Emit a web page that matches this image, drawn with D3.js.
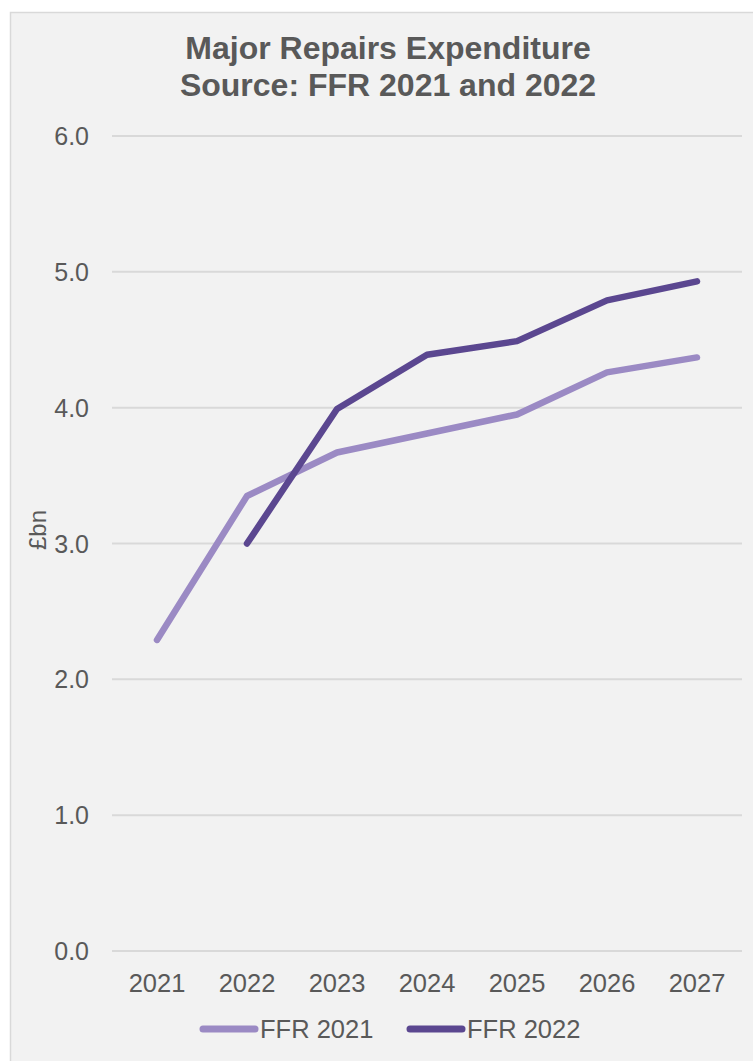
<!DOCTYPE html>
<html>
<head>
<meta charset="utf-8">
<script src="https://cdn.jsdelivr.net/npm/d3@7"></script>
<style>
  html, body { margin: 0; padding: 0; background: #fff; }
  svg { display: block; font-family: "Liberation Sans", Arial, sans-serif; }
</style>
</head>
<body>
<div id="chart"></div>
<script>
const years = ["2021", "2022", "2023", "2024", "2025", "2026", "2027"]
const ffr2021 = [2.29, 3.35, 3.67, 3.81, 3.95, 4.26, 4.37]
const ffr2022 = [null, 3.0, 3.99, 4.39, 4.49, 4.79, 4.93]
const yTicks = [0, 1, 2, 3, 4, 5, 6]

const width = 753
const height = 1061
const textColor = "#595959"

const svg = d3.select("#chart")
  .append("svg")
  .attr("width", width)
  .attr("height", height)

// chart panel
svg.append("rect")
  .attr("x", 10.5)
  .attr("y", 12.5)
  .attr("width", width)
  .attr("height", height)
  .attr("fill", "#f2f2f2")
  .attr("stroke", "#d9d9d9")
  .attr("stroke-width", 1.5)

const title = svg.append("text")
  .attr("text-anchor", "middle")
  .attr("font-size", 32)
  .attr("font-weight", "bold")
  .attr("fill", textColor)
title.append("tspan").attr("x", 388).attr("y", 59).text("Major Repairs Expenditure")
title.append("tspan").attr("x", 388).attr("y", 96).text("Source: FFR 2021 and 2022")

const x = d3.scalePoint()
  .domain(years)
  .range([112, 742])
  .padding(0.5)

const y = d3.scaleLinear()
  .domain([0, 6])
  .range([951, 136])

// gridlines
svg.append("g")
  .selectAll("line")
  .data(yTicks)
  .enter().append("line")
  .attr("x1", 112)
  .attr("x2", 742)
  .attr("y1", d => y(d))
  .attr("y2", d => y(d))
  .attr("stroke", "#d9d9d9")
  .attr("stroke-width", 2)

// y tick labels
svg.append("g")
  .selectAll("text")
  .data(yTicks)
  .enter().append("text")
  .attr("x", 89)
  .attr("y", d => y(d) + 9)
  .attr("text-anchor", "end")
  .attr("font-size", 25)
  .attr("fill", textColor)
  .text(d => d.toFixed(1))

// x tick labels
svg.append("g")
  .selectAll("text")
  .data(years)
  .enter().append("text")
  .attr("x", d => x(d))
  .attr("y", 992)
  .attr("text-anchor", "middle")
  .attr("font-size", 25.5)
  .attr("fill", textColor)
  .text(d => d)

// y axis title
svg.append("text")
  .attr("transform", "translate(46, 530) rotate(-90)")
  .attr("text-anchor", "middle")
  .attr("font-size", 24)
  .attr("fill", textColor)
  .text("£bn")

const series = [
  { name: "FFR 2021", values: ffr2021, color: "#9b8ac4" },
  { name: "FFR 2022", values: ffr2022, color: "#5b4790" }
]

const line = d3.line()
  .defined(d => d.v != null)
  .x(d => x(d.year))
  .y(d => y(d.v))

series.forEach(s => {
  svg.append("path")
    .datum(years.map((yr, i) => ({ year: yr, v: s.values[i] })))
    .attr("d", line)
    .attr("fill", "none")
    .attr("stroke", s.color)
    .attr("stroke-width", 6.5)
    .attr("stroke-linecap", "round")
    .attr("stroke-linejoin", "round")
})

// legend
const legendPos = [200, 407]
series.forEach((s, i) => {
  const g = svg.append("g").attr("transform", `translate(${legendPos[i]}, 1029)`)
  g.append("line")
    .attr("x1", 3).attr("x2", 55)
    .attr("y1", 0).attr("y2", 0)
    .attr("stroke", s.color)
    .attr("stroke-width", 7)
    .attr("stroke-linecap", "round")
  g.append("text")
    .attr("x", 60)
    .attr("y", 9)
    .attr("font-size", 25.5)
    .attr("fill", textColor)
    .text(s.name)
})
</script>
</body>
</html>
